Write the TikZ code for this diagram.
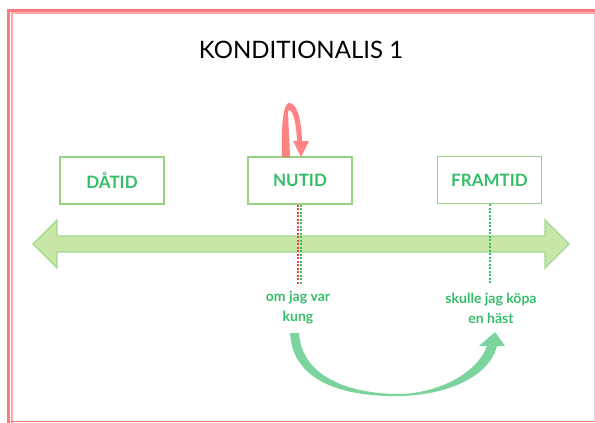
\documentclass[tikz,border=0pt]{standalone}
\usepackage{fontspec}
\setmainfont{Lato}
\definecolor{tgreen}{RGB}{52,190,105}
\definecolor{bgreen}{RGB}{150,210,130}
\definecolor{afill}{RGB}{200,230,165}
\definecolor{aedge}{RGB}{160,218,145}
\definecolor{fred}{RGB}{255,100,100}
\definecolor{cgreen}{RGB}{100,205,140}
\begin{document}
\begin{tikzpicture}[x=1pt,y=-1pt,
  tbox/.style={draw=bgreen,line width=1.3pt,minimum width=104pt,minimum height=47pt,inner sep=0pt,text=tgreen,font=\fontsize{17}{19}\selectfont\bfseries},
  lbl/.style={text=tgreen,align=center,font=\fontsize{14}{20}\selectfont\bfseries},
  gdots/.style={draw=tgreen,line width=2pt,dash pattern=on 2pt off 1.5pt},
  rdots/.style={draw=red!75,line width=2pt,dash pattern=on 2pt off 1.5pt}]
\useasboundingbox (0,0) rectangle (595,423);
% frame
\draw[fred!85,line width=2.2pt] (8.5,423) -- (8.5,10.5) -- (600,10.5);
\draw[fred!55,line width=1.8pt] (11.8,423) -- (11.8,13.3) -- (600,13.3);
\draw[fred!85,line width=1.4pt] (8,421.5) -- (600,421.5);
\draw[black!15,line width=0.6pt] (594.5,14) -- (594.5,421);
% title
\node[font=\fontsize{24}{27}\selectfont] (title) at (301,50) {KONDITIONALIS 1};
% timeline double arrow
\filldraw[fill=afill,draw=aedge,line width=1.3pt]
  (33,244) -- (57,220) -- (57,236) -- (545,236) -- (545,220) -- (569,244)
  -- (545,268) -- (545,252) -- (57,252) -- (57,268) -- cycle;
% boxes
\node[tbox] (dat) at (112,180.5) {DÅTID};
\node[tbox] (nut) at (300,180.5) {NUTID};
\node[tbox] (fram) at (489.5,180) {FRAMTID};
% labels
\node[lbl] (om) at (298,308) {om jag var\\kung};
\node[lbl] (sk) at (491,308) {skulle jag köpa\\en häst};
% dotted lines
\coordinate (nr) at ([xshift=-2.5pt]nut.south);
\coordinate (ng) at ([xshift=0.5pt]nut.south);
\draw[rdots] (nr) -- (nr |- 0,285);
\draw[gdots] (ng) -- (ng |- 0,285);
\draw[gdots] (fram.south) -- (fram.south |- 0,283);
% red loop arrow
\fill[fred,opacity=0.8]
  (282,157) .. controls (281,120) and (284,103) .. (289,103)
  .. controls (296,103) and (301,115) .. (302,141) -- (309,141) -- (301,157) -- (293,141) -- (297,141)
  .. controls (296,118) and (292,110) .. (289,110)
  .. controls (287,110) and (289,125) .. (290,157) -- cycle;
% green curved arrow
\fill[cgreen,opacity=0.85]
  (290,333) .. controls (293,385) and (350,397) .. (400,396)
  .. controls (450,395) and (490,375) .. (497,346) -- (505,346) -- (495,332) -- (479,346) -- (487,346)
  .. controls (478,372) and (440,393) .. (400,394)
  .. controls (355,394) and (302,380) .. (299,333) -- cycle;
\end{tikzpicture}
\end{document}
